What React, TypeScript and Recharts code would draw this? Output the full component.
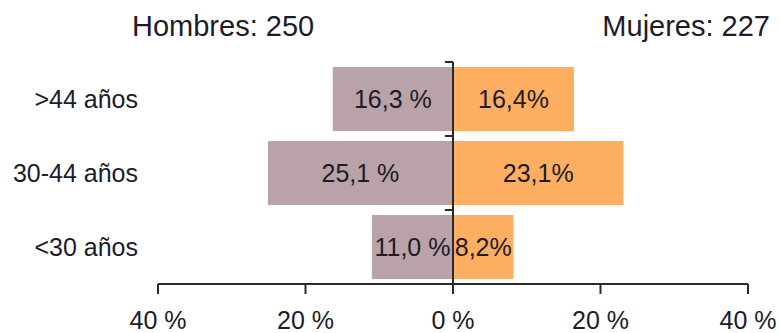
import React from 'react';
import { BarChart, Bar, XAxis, YAxis, ReferenceLine, LabelList } from 'recharts';

// Age groups, top to bottom
const categories = ['>44 años', '30-44 años', '<30 años'];
// Percentages per group
const hombres = [16.3, 25.1, 11.0];
const mujeres = [16.4, 23.1, 8.2];
// Axis ticks (percent)
const xTicks = [-40, -20, 0, 20, 40];

const titleLeft = 'Hombres: 250';
const titleRight = 'Mujeres: 227';

const FONT = '"Liberation Sans", Arial, sans-serif';
const TEXT = '#1c1c2a';
const AXIS = '#2a2a2a';
const MAUVE = '#b9a2a8';
const ORANGE = '#fdae60';

const data = categories.map((c, i) => ({
  age: c,
  hombres: -hombres[i],
  mujeres: mujeres[i],
}));

const fmtComma = (v: number) => Math.abs(v).toFixed(1).replace('.', ',');

// Centered, single-line value label inside each bar
const makeLabel = (suffix: string) => (props: any) => {
  const { x, y, width, height, value } = props;
  return (
    <text
      x={Number(x) + Number(width) / 2}
      y={Number(y) + Number(height) / 2}
      textAnchor="middle"
      dominantBaseline="central"
      fill={TEXT}
      fontSize={25}
      fontFamily={FONT}
    >
      {`${fmtComma(Number(value))}${suffix}`}
    </text>
  );
};

export default function App() {
  return (
    <div style={{ position: 'absolute', left: 0, top: 0, width: 780, height: 333, background: '#fff', fontFamily: FONT }}>
      <BarChart
        width={780}
        height={333}
        data={data}
        layout="vertical"
        stackOffset="sign"
        margin={{ top: 62, right: 32, bottom: 0, left: 0 }}
      >
        <XAxis
          type="number"
          domain={[-40, 40]}
          ticks={xTicks}
          tickFormatter={(v: number) => `${Math.abs(v)} %`}
          height={49}
          tickSize={10}
          tickMargin={17}
          stroke={AXIS}
          strokeWidth={2}
          tick={{ fill: TEXT, fontSize: 25, fontFamily: FONT }}
          allowDataOverflow
        />
        <YAxis
          yAxisId="cat"
          type="category"
          dataKey="age"
          width={158}
          axisLine={false}
          tickLine={false}
          tickSize={0}
          tickMargin={20}
          tick={{ fill: TEXT, fontSize: 25, fontFamily: FONT }}
        />
        <Bar
          yAxisId="cat"
          dataKey="hombres"
          stackId="p"
          fill={MAUVE}
          barSize={64}
          isAnimationActive={false}
        >
          <LabelList dataKey="hombres" content={makeLabel(' %')} />
        </Bar>
        <Bar
          yAxisId="cat"
          dataKey="mujeres"
          stackId="p"
          fill={ORANGE}
          barSize={64}
          isAnimationActive={false}
        >
          <LabelList dataKey="mujeres" content={makeLabel('%')} />
        </Bar>
        <ReferenceLine yAxisId="cat" x={0} stroke={AXIS} strokeWidth={2} />
        {/* short ticks on the centre line marking each age-group boundary */}
        {categories.map((c) => (
          <ReferenceLine
            key={c}
            yAxisId="cat"
            position="start"
            segment={[{ x: -1.1, y: c }, { x: 0, y: c }]}
            stroke={AXIS}
            strokeWidth={2}
          />
        ))}
      </BarChart>
      <svg width={780} height={60} style={{ position: 'absolute', left: 0, top: 0, pointerEvents: 'none' }}>
        <text x={132} y={36} fontSize={29} fill={TEXT} fontFamily={FONT}>{titleLeft}</text>
        <text x={770} y={36} fontSize={29} fill={TEXT} fontFamily={FONT} textAnchor="end">{titleRight}</text>
      </svg>
    </div>
  );
}
